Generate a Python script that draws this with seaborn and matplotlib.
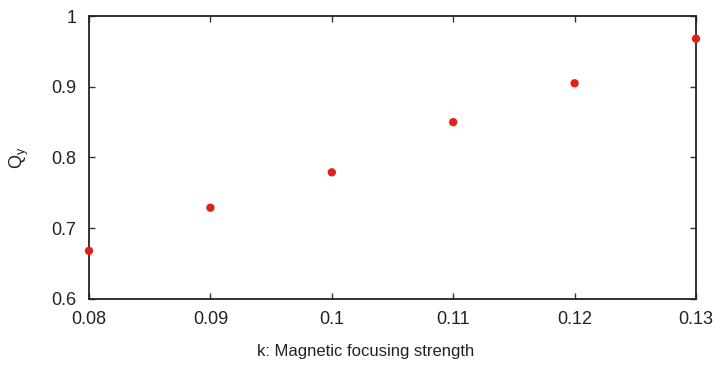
import matplotlib
matplotlib.use('Agg')
import matplotlib.pyplot as plt
import pandas as pd
import seaborn as sns

# focusing strength k and vertical tune Q_y
k_values = [0.08, 0.09, 0.10, 0.11, 0.12, 0.13]
qy_values = [0.668, 0.729, 0.779, 0.850, 0.905, 0.968]
x_ticks = [0.08, 0.09, 0.10, 0.11, 0.12, 0.13]
x_tick_labels = ['0.08', '0.09', '0.1', '0.11', '0.12', '0.13']
y_ticks = [0.6, 0.7, 0.8, 0.9, 1.0]
y_tick_labels = ['0.6', '0.7', '0.8', '0.9', '1']


def main():
    sns.set_style('ticks')
    plt.rcParams['font.family'] = ['Liberation Sans', 'DejaVu Sans']

    df = pd.DataFrame({'k': k_values, 'qy': qy_values})

    fig = plt.figure(figsize=(7.2, 3.65), dpi=100)
    ax = fig.add_axes([0.1236, 0.181, 0.8431, 0.775])

    sns.scatterplot(data=df, x='k', y='qy', ax=ax, color='#e0201b',
                    s=36, edgecolor='none', clip_on=False, zorder=5)

    ax.set_xlim(0.08, 0.13)
    ax.set_ylim(0.6, 1.0)
    ax.set_xticks(x_ticks)
    ax.set_xticklabels(x_tick_labels)
    ax.set_yticks(y_ticks)
    ax.set_yticklabels(y_tick_labels)
    ax.set_xlabel('k: Magnetic focusing strength', fontsize=12, labelpad=11,
                  color='#222222')
    ax.xaxis.label.set_x(0.455)
    ax.set_ylabel(r'Q$_\mathregular{y}$', fontsize=13, labelpad=15,
                  color='#222222')

    ax.tick_params(direction='in', length=4, width=1, labelsize=13,
                   top=True, right=True, colors='#333333', labelcolor='#222222')
    ax.tick_params(axis='x', pad=9)
    ax.tick_params(axis='y', pad=9)
    for side in ax.spines.values():
        side.set_linewidth(1.3)
        side.set_color('#222222')

    fig.savefig('out.png', dpi=100)
    plt.close(fig)


if __name__ == '__main__':
    main()
